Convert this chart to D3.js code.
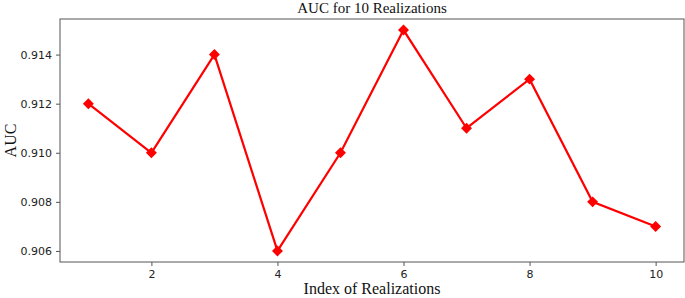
<!DOCTYPE html>
<html>
<head>
<meta charset="utf-8">
<script src="https://cdn.jsdelivr.net/npm/d3@7"></script>
<style>
  body { margin: 0; background: #fff; }
  .tick text { font-family: "DejaVu Sans", sans-serif; font-size: 11px; fill: #222; }
  .tick line { stroke: #555; }
  .lbl { font-family: "Liberation Serif", "Times New Roman", serif; fill: #111; }
</style>
</head>
<body>
<div id="chart"></div>
<script>
const realizations = [1, 2, 3, 4, 5, 6, 7, 8, 9, 10];
const aucValues = [0.912, 0.910, 0.914, 0.906, 0.910, 0.915, 0.911, 0.913, 0.908, 0.907];
const xTicks = [2, 4, 6, 8, 10];
const yTicks = [0.906, 0.908, 0.910, 0.912, 0.914];

const W = 685, H = 298;
const margin = { top: 19, right: 1, bottom: 36, left: 60 };
const width = W - margin.left - margin.right;
const height = H - margin.top - margin.bottom;

const svg = d3.select('#chart').append('svg')
  .attr('width', W)
  .attr('height', H);

const g = svg.append('g')
  .attr('transform', `translate(${margin.left},${margin.top})`);

// matplotlib style 5% padding
const xPad = (d3.max(realizations) - d3.min(realizations)) * 0.05;
const yPad = (d3.max(aucValues) - d3.min(aucValues)) * 0.05;

const x = d3.scaleLinear()
  .domain([d3.min(realizations) - xPad, d3.max(realizations) + xPad])
  .range([0, width]);

const y = d3.scaleLinear()
  .domain([d3.min(aucValues) - yPad, d3.max(aucValues) + yPad])
  .range([height, 0]);

g.append('g')
  .attr('transform', `translate(0,${height})`)
  .call(d3.axisBottom(x).tickValues(xTicks).tickSize(4).tickPadding(4).tickFormat(d3.format('d')))
  .call(a => a.select('.domain').remove());

g.append('g')
  .call(d3.axisLeft(y).tickValues(yTicks).tickSize(4).tickPadding(4).tickFormat(d3.format('.3f')))
  .call(a => a.select('.domain').remove());

// frame
g.append('rect')
  .attr('x', 0).attr('y', 0)
  .attr('width', width).attr('height', height)
  .attr('fill', 'none')
  .attr('stroke', '#555')
  .attr('stroke-width', 1);

const pts = realizations.map((r, i) => ({ r, v: aucValues[i] }));

g.append('path')
  .datum(pts)
  .attr('fill', 'none')
  .attr('stroke', '#ff0000')
  .attr('stroke-width', 2.2)
  .attr('d', d3.line().x(d => x(d.r)).y(d => y(d.v)));

g.selectAll('.mk')
  .data(pts)
  .enter().append('path')
  .attr('class', 'mk')
  .attr('transform', d => `translate(${x(d.r)},${y(d.v)}) rotate(45)`)
  .attr('d', d3.symbol().type(d3.symbolSquare).size(60))
  .attr('fill', '#ff0000');

svg.append('text')
  .attr('class', 'lbl')
  .attr('x', margin.left + width / 2)
  .attr('y', 13)
  .attr('text-anchor', 'middle')
  .style('font-size', '15px')
  .text('AUC for 10 Realizations');

svg.append('text')
  .attr('class', 'lbl')
  .attr('x', margin.left + width / 2)
  .attr('y', 294)
  .attr('text-anchor', 'middle')
  .style('font-size', '16px')
  .text('Index of Realizations');

svg.append('text')
  .attr('class', 'lbl')
  .attr('transform', `translate(16,${margin.top + height / 2}) rotate(-90)`)
  .attr('text-anchor', 'middle')
  .style('font-size', '16px')
  .text('AUC');
</script>
</body>
</html>
